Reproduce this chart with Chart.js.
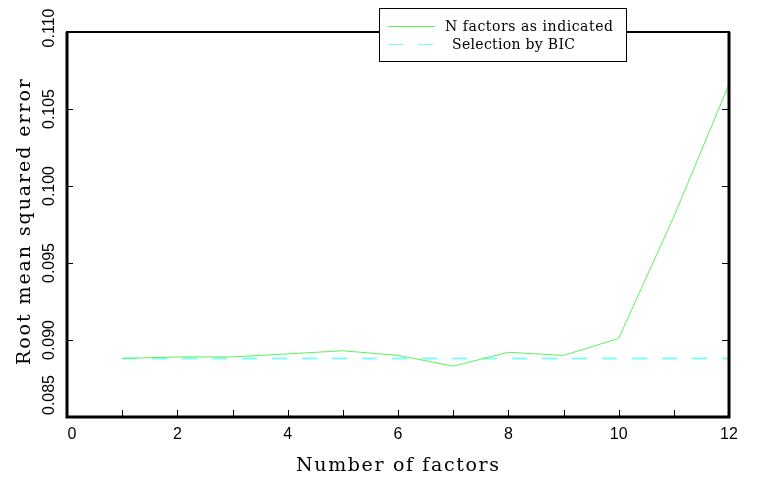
<!DOCTYPE html>
<html>
<head>
<meta charset="utf-8">
<script src="https://cdn.jsdelivr.net/npm/chart.js@4.4.1/dist/chart.umd.min.js"></script>
<style>
  html, body { margin: 0; padding: 0; background: #fff; }
  #wrap { width: 758px; height: 481px; position: relative; }
</style>
</head>
<body>
<div id="wrap"><canvas id="myChart"></canvas></div>
<script>
// number of factors 1..12
const factores = [1, 2, 3, 4, 5, 6, 7, 8, 9, 10, 11, 12];
const rmseFactores = [0.0888, 0.0889, 0.0889, 0.0891, 0.0893, 0.0890, 0.0883, 0.0892, 0.0890, 0.0901, 0.0980, 0.1066];
const rmseBIC = [0.0888, 0.0888, 0.0888, 0.0888, 0.0888, 0.0888, 0.0888, 0.0888, 0.0888, 0.0888, 0.0888, 0.0888];
const xTicks = [0, 2, 4, 6, 8, 10, 12];
const xMinorTicks = [1, 2, 3, 4, 5, 6, 7, 8, 9, 10, 11];
const yTicks = [0.085, 0.090, 0.095, 0.100, 0.105, 0.110];
const etiquetas = ["N factors as indicated", "Selection by BIC"];
const tituloX = "Number of factors";
const tituloY = "Root mean squared error";

const VERDE = "#5af25a";
const CIAN = "#80fbfb";

function puntos(xs, ys) {
  return xs.map((x, i) => ({ x: x, y: ys[i] }));
}

// draws text stretched to a given width using letter spacing
function textoAncho(ctx, texto, x, y, ancho) {
  ctx.letterSpacing = "0px";
  const w = ctx.measureText(texto).width;
  const sp = (ancho - w) / (texto.length - 1);
  ctx.letterSpacing = sp.toFixed(2) + "px";
  ctx.textAlign = "left";
  ctx.fillText(texto, x, y);
  ctx.letterSpacing = "0px";
}

const marco = {
  id: "marco",
  afterDraw(chart) {
    const ctx = chart.ctx;
    const a = chart.chartArea;
    const sx = chart.scales.x;
    const sy = chart.scales.y;
    ctx.save();
    ctx.strokeStyle = "#000";
    ctx.fillStyle = "#000";

    // ticks pointing inward
    ctx.lineWidth = 1;
    ctx.beginPath();
    xMinorTicks.forEach((v) => {
      const px = Math.round(sx.getPixelForValue(v)) + 0.5;
      ctx.moveTo(px, a.bottom);
      ctx.lineTo(px, a.bottom - 7);
    });
    yTicks.forEach((v) => {
      const py = Math.round(sy.getPixelForValue(v)) + 0.5;
      ctx.moveTo(a.left, py);
      ctx.lineTo(a.left + 6, py);
      ctx.moveTo(a.right, py);
      ctx.lineTo(a.right - 7, py);
    });
    ctx.stroke();

    // frame
    ctx.lineWidth = 3;
    ctx.beginPath();
    ctx.moveTo(a.left, a.top);
    ctx.lineTo(a.left, a.bottom);
    ctx.lineTo(a.right, a.bottom);
    ctx.lineTo(a.right, a.top);
    ctx.stroke();
    ctx.lineWidth = 2;
    ctx.beginPath();
    ctx.moveTo(a.left - 1, a.top);
    ctx.lineTo(a.right + 1, a.top);
    ctx.stroke();

    // x tick labels
    ctx.font = "16px 'Liberation Sans'";
    ctx.textBaseline = "middle";
    ctx.textAlign = "center";
    xTicks.forEach((v) => {
      let px = sx.getPixelForValue(v);
      if (v === 0) px += 5;
      ctx.fillText(String(v), px, a.bottom + 18);
    });

    // y tick labels, rotated
    yTicks.forEach((v, i) => {
      let py = sy.getPixelForValue(v);
      if (i === 0) py -= 22;
      if (i === yTicks.length - 1) py -= 4;
      ctx.save();
      ctx.translate(50, py);
      ctx.rotate(-Math.PI / 2);
      ctx.textAlign = "center";
      ctx.textBaseline = "middle";
      ctx.fillText(v.toFixed(3), 0, 0);
      ctx.restore();
    });

    // axis titles
    ctx.font = "19px 'DejaVu Serif'";
    ctx.textBaseline = "middle";
    textoAncho(ctx, tituloX, 296, 466, 203);
    ctx.save();
    ctx.translate(25, 365);
    ctx.rotate(-Math.PI / 2);
    textoAncho(ctx, tituloY, 0, 0, 286);
    ctx.restore();

    // legend box
    ctx.fillStyle = "#fff";
    ctx.fillRect(379, 8, 248, 54);
    ctx.lineWidth = 1;
    ctx.strokeStyle = "#000";
    ctx.strokeRect(379.5, 8.5, 247, 53);
    const ds = chart.data.datasets;
    ctx.strokeStyle = ds[0].borderColor;
    ctx.lineWidth = 1;
    ctx.beginPath();
    ctx.moveTo(388, 26.5);
    ctx.lineTo(435, 26.5);
    ctx.stroke();
    ctx.strokeStyle = ds[1].borderColor;
    ctx.lineWidth = 1;
    ctx.beginPath();
    ctx.moveTo(388, 44.5);
    ctx.lineTo(403, 44.5);
    ctx.moveTo(418, 44.5);
    ctx.lineTo(433, 44.5);
    ctx.stroke();
    ctx.fillStyle = "#000";
    ctx.font = "14px 'DejaVu Serif'";
    ctx.textBaseline = "middle";
    textoAncho(ctx, ds[0].label, 445, 27, 168);
    textoAncho(ctx, ds[1].label, 452, 45, 123);
    ctx.restore();
  },
};

function dibujarGrafica() {
  const ctx = document.getElementById("myChart").getContext("2d");
  new Chart(ctx, {
    type: "line",
    data: {
      datasets: [
        {
          label: etiquetas[0],
          data: puntos(factores, rmseFactores),
          borderColor: VERDE,
          borderWidth: 1,
          pointRadius: 0,
          tension: 0,
          order: 1,
        },
        {
          label: etiquetas[1],
          data: puntos(factores, rmseBIC),
          borderColor: CIAN,
          borderWidth: 2,
          borderDash: [15, 15],
          pointRadius: 0,
          tension: 0,
          order: 2,
        },
      ],
    },
    options: {
      responsive: true,
      maintainAspectRatio: false,
      animation: false,
      layout: { padding: { left: 67, right: 29, top: 32, bottom: 64 } },
      plugins: { legend: { display: false }, tooltip: { enabled: false } },
      scales: {
        x: { type: "linear", min: 0, max: 12, display: false },
        y: { type: "linear", min: 0.085, max: 0.110, display: false },
      },
    },
    plugins: [marco],
  });
}

dibujarGrafica();
</script>
</body>
</html>
